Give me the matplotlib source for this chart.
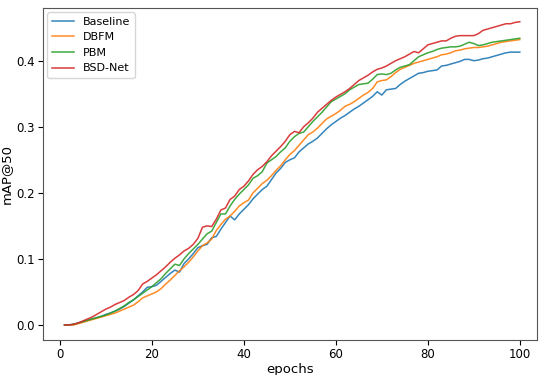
import numpy as np
import matplotlib
matplotlib.use('Agg')
import matplotlib.pyplot as plt


epochs = list(range(1, 101))

baseline = [0.000, 0.000, 0.001, 0.003, 0.005, 0.007, 0.009, 0.011, 0.013, 0.016,
            0.018, 0.021, 0.024, 0.028, 0.033, 0.038, 0.044, 0.050, 0.057, 0.058,
            0.060, 0.066, 0.072, 0.078, 0.083, 0.080, 0.093, 0.100, 0.108, 0.117,
            0.120, 0.122, 0.132, 0.134, 0.145, 0.155, 0.165, 0.159, 0.168, 0.175,
            0.182, 0.191, 0.198, 0.205, 0.210, 0.220, 0.230, 0.237, 0.246, 0.250,
            0.253, 0.262, 0.268, 0.274, 0.278, 0.283, 0.290, 0.297, 0.303, 0.308,
            0.313, 0.317, 0.322, 0.327, 0.331, 0.336, 0.341, 0.346, 0.353, 0.348,
            0.356, 0.357, 0.358, 0.364, 0.369, 0.373, 0.377, 0.381, 0.382, 0.384,
            0.385, 0.386, 0.392, 0.393, 0.395, 0.397, 0.399, 0.402, 0.402, 0.400,
            0.401, 0.403, 0.404, 0.406, 0.408, 0.410, 0.412, 0.413, 0.413, 0.413]

dbfm = [0.000, 0.000, 0.000, 0.002, 0.004, 0.006, 0.008, 0.010, 0.012, 0.014,
        0.016, 0.018, 0.021, 0.024, 0.027, 0.030, 0.035, 0.041, 0.044, 0.047,
        0.050, 0.055, 0.062, 0.068, 0.075, 0.082, 0.088, 0.095, 0.103, 0.112,
        0.120, 0.124, 0.130, 0.143, 0.152, 0.160, 0.165, 0.172, 0.180, 0.185,
        0.189, 0.200, 0.207, 0.214, 0.219, 0.226, 0.234, 0.241, 0.250, 0.258,
        0.264, 0.272, 0.280, 0.288, 0.292, 0.298, 0.305, 0.312, 0.316, 0.320,
        0.325, 0.331, 0.334, 0.338, 0.343, 0.348, 0.352, 0.358, 0.368, 0.370,
        0.371, 0.376, 0.382, 0.387, 0.390, 0.393, 0.396, 0.398, 0.400, 0.402,
        0.404, 0.406, 0.409, 0.410, 0.412, 0.415, 0.416, 0.418, 0.419, 0.420,
        0.420, 0.421, 0.422, 0.424, 0.426, 0.428, 0.429, 0.430, 0.431, 0.432]

pbm = [0.000, 0.000, 0.001, 0.003, 0.005, 0.007, 0.009, 0.011, 0.013, 0.015,
       0.018, 0.021, 0.025, 0.029, 0.034, 0.038, 0.043, 0.048, 0.053, 0.058,
       0.064, 0.070, 0.078, 0.085, 0.092, 0.090, 0.100, 0.108, 0.115, 0.122,
       0.130, 0.138, 0.142, 0.155, 0.168, 0.168, 0.180, 0.190, 0.198, 0.205,
       0.212, 0.222, 0.226, 0.232, 0.245, 0.250, 0.255, 0.262, 0.268, 0.278,
       0.285, 0.290, 0.292, 0.300, 0.308, 0.315, 0.322, 0.330, 0.338, 0.342,
       0.346, 0.350, 0.356, 0.360, 0.364, 0.365, 0.366, 0.372, 0.379, 0.380,
       0.379, 0.381, 0.386, 0.390, 0.392, 0.394, 0.400, 0.406, 0.409, 0.412,
       0.414, 0.417, 0.419, 0.420, 0.421, 0.421, 0.422, 0.425, 0.428, 0.426,
       0.423, 0.424, 0.426, 0.428, 0.429, 0.430, 0.431, 0.432, 0.433, 0.434]

bsd_net = [0.000, 0.000, 0.001, 0.003, 0.006, 0.009, 0.012, 0.016, 0.020, 0.024,
           0.027, 0.031, 0.034, 0.037, 0.042, 0.046, 0.052, 0.062, 0.066, 0.071,
           0.076, 0.082, 0.088, 0.095, 0.101, 0.106, 0.112, 0.116, 0.122, 0.131,
           0.148, 0.150, 0.149, 0.160, 0.174, 0.177, 0.190, 0.195, 0.205, 0.210,
           0.218, 0.228, 0.235, 0.240, 0.247, 0.256, 0.263, 0.270, 0.278, 0.288,
           0.293, 0.291, 0.300, 0.306, 0.313, 0.322, 0.328, 0.334, 0.340, 0.345,
           0.349, 0.353, 0.358, 0.364, 0.370, 0.374, 0.378, 0.383, 0.387, 0.389,
           0.392, 0.396, 0.400, 0.403, 0.406, 0.410, 0.414, 0.412, 0.418, 0.424,
           0.426, 0.428, 0.430, 0.430, 0.434, 0.437, 0.438, 0.438, 0.438, 0.438,
           0.441, 0.446, 0.448, 0.450, 0.452, 0.454, 0.456, 0.456, 0.458, 0.459]

series = [('Baseline', baseline), ('DBFM', dbfm), ('PBM', pbm), ('BSD-Net', bsd_net)]


def main():
    fig = plt.figure(figsize=(5.5, 3.75), dpi=100)
    ax = fig.add_axes([0.078, 0.093, 0.898, 0.886])
    for name, vals in series:
        ax.plot(epochs, vals, label=name, linewidth=1.1, alpha=0.9)

    ax.set_xlim(-3.7, 103.7)
    ax.set_ylim(-0.023, 0.48)
    ax.set_xticks([0, 20, 40, 60, 80, 100])
    ax.set_yticks([0.0, 0.1, 0.2, 0.3, 0.4])
    ax.tick_params(labelsize=8.5, pad=2.5)
    ax.set_xlabel('epochs', fontsize=9.5, labelpad=1)
    ax.set_ylabel('mAP@50', fontsize=9.5, labelpad=2)
    for sp in ax.spines.values():
        sp.set_color('#555555')
    ax.legend(loc='upper left', fontsize=8, borderaxespad=0.4)
    fig.savefig('out.png', dpi=100)


if __name__ == '__main__':
    main()
